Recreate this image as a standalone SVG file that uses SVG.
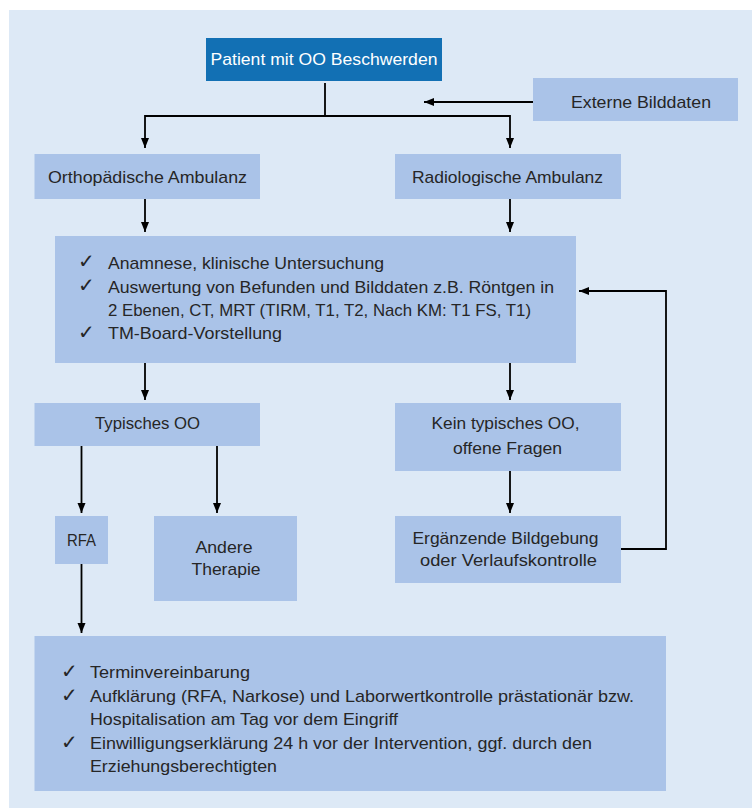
<svg xmlns="http://www.w3.org/2000/svg" width="752" height="811" viewBox="0 0 752 811">
<defs>
<style>
.bg{fill:#dde9f6}
.box{fill:#aac3e8}
.dark{fill:#1270b4}
.t{font-family:"Liberation Sans",Arial,sans-serif;font-size:17px;fill:#262626}
.c{text-anchor:middle}
.w{fill:#ffffff}
.ck{font-family:"DejaVu Sans",sans-serif;font-size:20px;fill:#262626}
.ln{fill:none;stroke:#000;stroke-width:1.8}
</style>
<marker id="ah" markerUnits="userSpaceOnUse" markerWidth="10" markerHeight="10" refX="10" refY="4" orient="auto">
<path d="M0,0 L10,4 L0,8 z" fill="#000"/>
</marker>
</defs>
<rect x="0" y="0" width="752" height="811" fill="#ffffff"/>
<rect class="bg" x="9" y="10" width="743" height="798"/>

<g id="connectors">
<path class="ln" d="M325,83 V116 H145 V148" marker-end="url(#ah)"/>
<path class="ln" d="M325,116 H510 V148" marker-end="url(#ah)"/>
<path class="ln" d="M533,102 H424" marker-end="url(#ah)"/>
<path class="ln" d="M145,199 V232" marker-end="url(#ah)"/>
<path class="ln" d="M510,199 V232" marker-end="url(#ah)"/>
<path class="ln" d="M145,363 V400" marker-end="url(#ah)"/>
<path class="ln" d="M510,363 V400" marker-end="url(#ah)"/>
<path class="ln" d="M81.5,446 V513" marker-end="url(#ah)"/>
<path class="ln" d="M217,446 V513" marker-end="url(#ah)"/>
<path class="ln" d="M510,471 V513" marker-end="url(#ah)"/>
<path class="ln" d="M81.5,564 V633" marker-end="url(#ah)"/>
<path class="ln" d="M621,549 H666 V291 H579" marker-end="url(#ah)"/>
</g>

<g id="patient">
<rect class="dark" x="206" y="38" width="236" height="43"/>
<text class="t c w" x="324" y="65" textLength="227" lengthAdjust="spacingAndGlyphs">Patient mit OO Beschwerden</text>
</g>
<g id="extern">
<rect class="box" x="533" y="78" width="205" height="43"/>
<text class="t c" x="641" y="108" textLength="140" lengthAdjust="spacingAndGlyphs">Externe Bilddaten</text>
</g>
<g id="ortho">
<rect class="box" x="34.5" y="154" width="225.5" height="45"/>
<text class="t c" x="147.5" y="183" textLength="199" lengthAdjust="spacingAndGlyphs">Orthopädische Ambulanz</text>
</g>
<g id="radio">
<rect class="box" x="395" y="154" width="226" height="45"/>
<text class="t c" x="507.5" y="183" textLength="191" lengthAdjust="spacingAndGlyphs">Radiologische Ambulanz</text>
</g>
<g id="anamnese">
<rect class="box" x="55" y="236" width="521" height="127"/>
<text class="ck" x="78" y="268">✓</text>
<text class="t" x="108" y="268.5" textLength="276" lengthAdjust="spacingAndGlyphs">Anamnese, klinische Untersuchung</text>
<text class="ck" x="78" y="292">✓</text>
<text class="t" x="108" y="292.5" textLength="446" lengthAdjust="spacingAndGlyphs">Auswertung von Befunden und Bilddaten z.B. Röntgen in</text>
<text class="t" x="108" y="315.5" textLength="423" lengthAdjust="spacingAndGlyphs">2 Ebenen, CT, MRT (TIRM, T1, T2, Nach KM: T1 FS, T1)</text>
<text class="ck" x="78" y="338.5">✓</text>
<text class="t" x="108" y="339" textLength="174" lengthAdjust="spacingAndGlyphs">TM-Board-Vorstellung</text>
</g>
<g id="typisch">
<rect class="box" x="34.5" y="403" width="225.5" height="43"/>
<text class="t c" x="147.5" y="429" textLength="105" lengthAdjust="spacingAndGlyphs">Typisches OO</text>
</g>
<g id="keintypisch">
<rect class="box" x="395" y="403" width="226" height="68"/>
<text class="t c" x="505.5" y="429" textLength="148" lengthAdjust="spacingAndGlyphs">Kein typisches OO,</text>
<text class="t c" x="507.5" y="454" textLength="109" lengthAdjust="spacingAndGlyphs">offene Fragen</text>
</g>
<g id="rfa">
<rect class="box" x="55" y="516" width="53" height="48"/>
<text class="t c" x="81.5" y="546" textLength="29" lengthAdjust="spacingAndGlyphs">RFA</text>
</g>
<g id="andere">
<rect class="box" x="154" y="516" width="143" height="85"/>
<text class="t c" x="224" y="553" textLength="57" lengthAdjust="spacingAndGlyphs">Andere</text>
<text class="t c" x="226" y="575" textLength="69" lengthAdjust="spacingAndGlyphs">Therapie</text>
</g>
<g id="ergaenzend">
<rect class="box" x="395" y="516" width="226" height="67"/>
<text class="t c" x="505.5" y="544" textLength="186" lengthAdjust="spacingAndGlyphs">Ergänzende Bildgebung</text>
<text class="t c" x="508.5" y="566" textLength="177" lengthAdjust="spacingAndGlyphs">oder Verlaufskontrolle</text>
</g>
<g id="termin">
<rect class="box" x="34.5" y="636" width="631.5" height="155"/>
<text class="ck" x="61" y="678">✓</text>
<text class="t" x="90" y="678" textLength="160" lengthAdjust="spacingAndGlyphs">Terminvereinbarung</text>
<text class="ck" x="61" y="701.5">✓</text>
<text class="t" x="90" y="701.5" textLength="544" lengthAdjust="spacingAndGlyphs">Aufklärung (RFA, Narkose) und Laborwertkontrolle prästationär bzw.</text>
<text class="t" x="90" y="725" textLength="308" lengthAdjust="spacingAndGlyphs">Hospitalisation am Tag vor dem Eingriff</text>
<text class="ck" x="61" y="748.5">✓</text>
<text class="t" x="90" y="748.5" textLength="502" lengthAdjust="spacingAndGlyphs">Einwilligungserklärung 24 h vor der Intervention, ggf. durch den</text>
<text class="t" x="90" y="772" textLength="187" lengthAdjust="spacingAndGlyphs">Erziehungsberechtigten</text>
</g>
</svg>
